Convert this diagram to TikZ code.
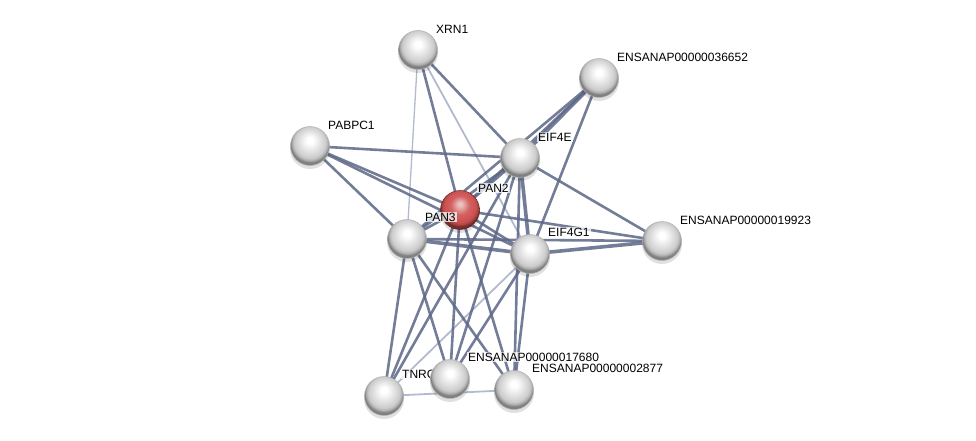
\documentclass[tikz,border=0pt]{standalone}
\usepackage{fontspec}
\setmainfont{Liberation Sans}
\usetikzlibrary{calc}
\definecolor{nred}{RGB}{205,80,80}
\definecolor{edark}{RGB}{92,102,134}
\definecolor{elight}{RGB}{170,178,200}
\pgfdeclareradialshading{greysphere}{\pgfpoint{0bp}{8bp}}{color(0bp)=(white); color(4bp)=(white); color(12bp)=(black!10); color(20bp)=(black!20); color(23bp)=(black!32); color(25bp)=(black!50); color(50bp)=(black!50)}
\pgfdeclareradialshading{redsphere}{\pgfpoint{0bp}{8bp}}{color(0bp)=(white!70!nred); color(4bp)=(white!55!nred); color(12bp)=(nred!90!white); color(20bp)=(nred); color(23bp)=(nred!85!black); color(25bp)=(nred!55!black); color(50bp)=(nred!55!black)}
\tikzset{
  prot/.style={circle, minimum size=39pt, inner sep=0pt, shading=greysphere, draw=black!30, line width=0.5pt},
  seed/.style={prot, shading=redsphere, draw=nred!50!black},
  lbl/.style={anchor=west, inner sep=1pt, fill=white, fill opacity=0.75, text opacity=1, font=\fontsize{12}{13}\selectfont},
  ed/.style={draw=edark, line width=2.6pt, opacity=0.85},
  edthick/.style={draw=edark, line width=3.6pt, opacity=0.85},
  el/.style={draw=elight, line width=1.8pt, opacity=0.9},
  elthin/.style={draw=elight, line width=1.3pt, opacity=0.9},
  shd/.style={fill=black, opacity=0.12}
}
\begin{document}
\begin{tikzpicture}[x=1pt,y=-1pt]
\useasboundingbox (0,0) rectangle (976,441);
% coordinates of node centres
\coordinate (cXRN) at (418,50);
\coordinate (cA) at (599,78);
\coordinate (cPAB) at (310,146);
\coordinate (cE4E) at (520,158);
\coordinate (cPAN2) at (460,210);
\coordinate (cPAN3) at (407,239);
\coordinate (cG1) at (530,254);
\coordinate (cB) at (662,241);
\coordinate (cC) at (450,379);
\coordinate (cD) at (514,390);
\coordinate (cT) at (384,396);
% edges
\draw[elthin] (cXRN) -- (cPAN3);
\draw[el] (cXRN) -- (cG1);
\draw[el] (cG1) -- (cT);
\draw[el] (cT) -- (cD);
\draw[ed] (cXRN) -- (cPAN2);
\draw[ed] (cXRN) -- (cE4E);
\draw[edthick] (cA) -- (cE4E);
\draw[ed] (cA) -- (cPAN2);
\draw[ed] (cA) -- (cPAN3);
\draw[ed] (cA) -- (cG1);
\draw[ed] (cPAB) -- (cE4E);
\draw[ed] (cPAB) -- (cPAN2);
\draw[ed] (cPAB) -- (cPAN3);
\draw[ed] (cPAB) -- (cG1);
\draw[ed] (cE4E) -- (cPAN2);
\draw[ed] (cE4E) -- (cPAN3);
\draw[edthick] (cE4E) -- (cG1);
\draw[ed] (cE4E) -- (cB);
\draw[ed] (cE4E) -- (cT);
\draw[ed] (cE4E) -- (cC);
\draw[ed] (cE4E) -- (cD);
\draw[ed] (cPAN2) -- (cPAN3);
\draw[ed] (cPAN2) -- (cG1);
\draw[ed] (cPAN2) -- (cB);
\draw[ed] (cPAN2) -- (cT);
\draw[ed] (cPAN2) -- (cC);
\draw[ed] (cPAN2) -- (cD);
\draw[edthick] (cPAN3) -- (cG1);
\draw[ed] (cPAN3) -- (cB);
\draw[ed] (cPAN3) -- (cT);
\draw[ed] (cPAN3) -- (cC);
\draw[ed] (cPAN3) -- (cD);
\draw[edthick] (cG1) -- (cB);
\draw[ed] (cG1) -- (cC);
\draw[ed] (cG1) -- (cD);
% nodes with labels
\fill[shd] ($(cXRN)+(0,3)$) circle (20);
\node[prot] (XRN) at (cXRN) {};
\node[lbl] (lXRN) at ($(cXRN)+(17,-21)$) {XRN1};
\fill[shd] ($(cA)+(0,3)$) circle (20);
\node[prot] (A) at (cA) {};
\node[lbl] (lA) at ($(cA)+(17,-21)$) {ENSANAP00000036652};
\fill[shd] ($(cPAB)+(0,3)$) circle (20);
\node[prot] (PAB) at (cPAB) {};
\node[lbl] (lPAB) at ($(cPAB)+(17,-21)$) {PABPC1};
\fill[shd] ($(cE4E)+(0,3)$) circle (20);
\node[prot] (E4E) at (cE4E) {};
\node[lbl] (lE4E) at ($(cE4E)+(17,-21)$) {EIF4E};
\fill[shd] ($(cB)+(0,3)$) circle (20);
\node[prot] (B) at (cB) {};
\node[lbl] (lB) at ($(cB)+(17,-21)$) {ENSANAP00000019923};
\fill[shd] ($(cPAN2)+(0,3)$) circle (20);
\node[seed] (PAN2) at (cPAN2) {};
\node[lbl] (lPAN2) at ($(cPAN2)+(17,-22)$) {PAN2};
\fill[shd] ($(cPAN3)+(0,3)$) circle (20);
\node[prot] (PAN3) at (cPAN3) {};
\node[lbl] (lPAN3) at ($(cPAN3)+(17,-22)$) {PAN3};
\fill[shd] ($(cG1)+(0,3)$) circle (20);
\node[prot] (G1) at (cG1) {};
\node[lbl] (lG1) at ($(cG1)+(17,-22)$) {EIF4G1};
\fill[shd] ($(cD)+(0,3)$) circle (20);
\node[prot] (D) at (cD) {};
\node[lbl] (lD) at ($(cD)+(17,-22)$) {ENSANAP00000002877};
\fill[shd] ($(cT)+(0,3)$) circle (20);
\node[prot] (T) at (cT) {};
\node[lbl] (lT) at ($(cT)+(17,-22)$) {TNRC};
\fill[shd] ($(cC)+(0,3)$) circle (20);
\node[prot] (C) at (cC) {};
\node[lbl] (lC) at ($(cC)+(17,-22)$) {ENSANAP00000017680};
\end{tikzpicture}
\end{document}
